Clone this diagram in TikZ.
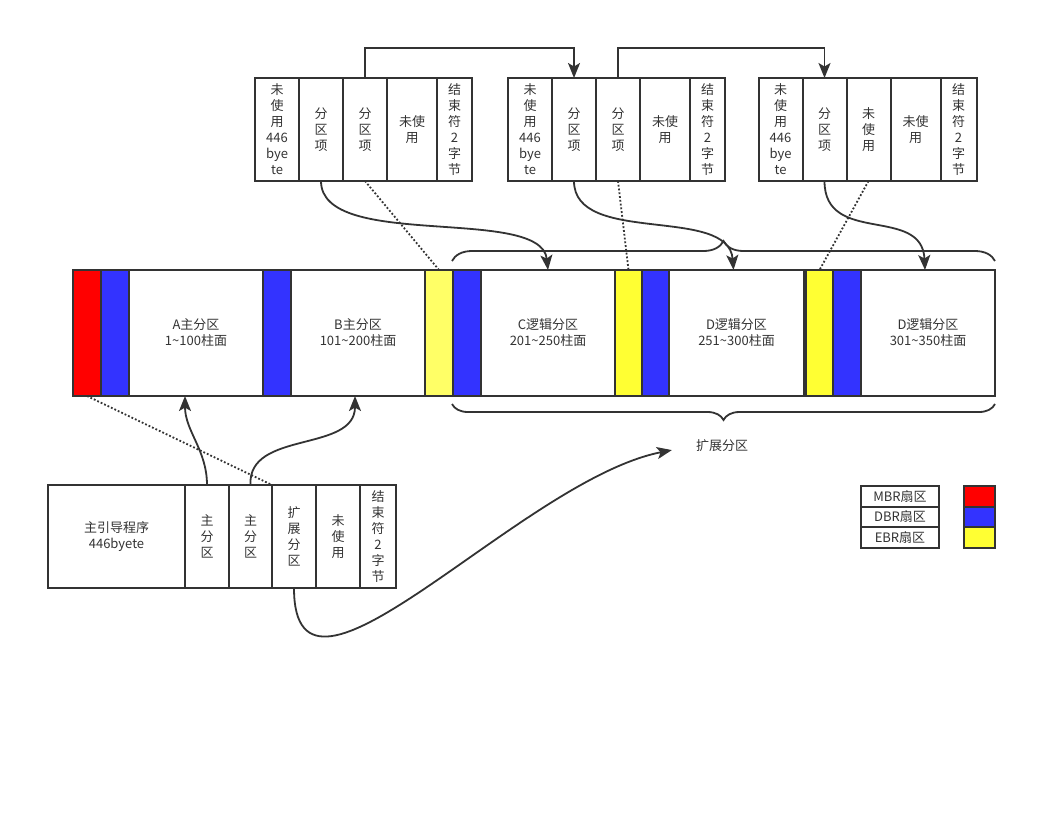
\documentclass[tikz,border=0pt]{standalone}
\usepackage{fontspec}
\setmainfont{Noto Sans CJK SC}
\usetikzlibrary{positioning,arrows.meta,decorations.pathreplacing}

\definecolor{linegray}{HTML}{333333}
\definecolor{mbrred}{HTML}{FF0000}
\definecolor{dbrblue}{HTML}{3333FF}
\definecolor{ebryellow}{HTML}{FFFF33}
\definecolor{ebrlight}{HTML}{FFFF66}

\tikzset{
    cell/.style={draw=linegray, line width=2pt, outer sep=0pt, inner sep=0pt,
        minimum height=103, text=linegray, align=center,
        font=\fontsize{13}{16}\selectfont},
    part/.style={cell, minimum height=126},
    tag/.style={cell, minimum height=20.5},
    link/.style={draw=linegray, line width=1.8pt, -{Stealth[length=15pt,width=12pt,inset=3.5pt]}},
    hint/.style={draw=linegray, line width=1.8pt, dotted},
    bracket/.style={draw=linegray, line width=1.8pt, decorate},
}

\begin{document}
\begin{tikzpicture}[x=1pt, y=-1pt]
    \useasboundingbox (0,0) rectangle (1057,812);
%
    % partition tables of the EBRs
    \node[cell, minimum width=44, anchor=west] (ta1) at (255,129.5) {未\\使\\用\\446\\bye\\te};
    \node[cell, minimum width=44, right=0pt of ta1] (ta2) {分\\区\\项};
    \node[cell, minimum width=44, right=0pt of ta2] (ta3) {分\\区\\项};
    \node[cell, minimum width=50, right=0pt of ta3] (ta4) {未使\\用};
    \node[cell, minimum width=35, right=0pt of ta4] (ta5) {结\\束\\符\\2\\字\\节};
%
    \node[cell, minimum width=44, anchor=west] (tb1) at (508,129.5) {未\\使\\用\\446\\bye\\te};
    \node[cell, minimum width=44, right=0pt of tb1] (tb2) {分\\区\\项};
    \node[cell, minimum width=44, right=0pt of tb2] (tb3) {分\\区\\项};
    \node[cell, minimum width=50, right=0pt of tb3] (tb4) {未使\\用};
    \node[cell, minimum width=35, right=0pt of tb4] (tb5) {结\\束\\符\\2\\字\\节};
%
    \node[cell, minimum width=44, anchor=west] (tc1) at (758.5,129.5) {未\\使\\用\\446\\bye\\te};
    \node[cell, minimum width=44, right=0pt of tc1] (tc2) {分\\区\\项};
    \node[cell, minimum width=44, right=0pt of tc2] (tc3) {未\\使\\用};
    \node[cell, minimum width=50, right=0pt of tc3] (tc4) {未使\\用};
    \node[cell, minimum width=36, right=0pt of tc4] (tc5) {结\\束\\符\\2\\字\\节};
%
    % the disk
    \node[part, fill=mbrred, minimum width=28, anchor=west] (mbr) at (73,333) {};
    \node[part, fill=dbrblue, minimum width=28, right=0pt of mbr] (dbra) {};
    \node[part, minimum width=134, right=0pt of dbra] (pa) {A主分区\\1\textasciitilde 100柱面};
    \node[part, fill=dbrblue, minimum width=28, right=0pt of pa] (dbrb) {};
    \node[part, minimum width=134, right=0pt of dbrb] (pb) {B主分区\\101\textasciitilde 200柱面};
    \node[part, fill=ebrlight, minimum width=28, right=0pt of pb] (ebrc) {};
    \node[part, fill=dbrblue, minimum width=28, right=0pt of ebrc] (dbrc) {};
    \node[part, minimum width=134, right=0pt of dbrc] (pc) {C逻辑分区\\201\textasciitilde 250柱面};
    \node[part, fill=ebryellow, minimum width=27, right=0pt of pc] (ebrd) {};
    \node[part, fill=dbrblue, minimum width=27, right=0pt of ebrd] (dbrd) {};
    \node[part, minimum width=135, right=0pt of dbrd] (pd) {D逻辑分区\\251\textasciitilde 300柱面};
    \node[part, fill=ebryellow, minimum width=27, right=2pt of pd] (ebre) {};
    \node[part, fill=dbrblue, minimum width=28, right=0pt of ebre] (dbre) {};
    \node[part, minimum width=134, right=0pt of dbre] (pe) {D逻辑分区\\301\textasciitilde 350柱面};
%
    \draw[bracket, decoration={brace, amplitude=20pt}] (452,261) -- (995,261);
    \draw[bracket, decoration={brace, amplitude=16pt}] (995,404) -- (452,404);
    \node[text=linegray, font=\fontsize{13}{16}\selectfont] (ext) at (722,446) {扩展分区};
%
    % the MBR
    \node[cell, minimum width=137, anchor=west] (mb1) at (48,536.5) {主引导程序\\446byete};
    \node[cell, minimum width=44, right=0pt of mb1] (mb2) {主\\分\\区};
    \node[cell, minimum width=43, right=0pt of mb2] (mb3) {主\\分\\区};
    \node[cell, minimum width=44, right=0pt of mb3] (mb4) {扩\\展\\分\\区};
    \node[cell, minimum width=44, right=0pt of mb4] (mb5) {未\\使\\用};
    \node[cell, minimum width=36, right=0pt of mb5] (mb6) {结\\束\\符\\2\\字\\节};
%
    % legend
    \node[tag, minimum width=78, anchor=north west] (lgm) at (861,486) {MBR扇区};
    \node[tag, minimum width=78, below=0pt of lgm] (lgd) {DBR扇区};
    \node[tag, minimum width=78, below=0pt of lgd] (lge) {EBR扇区};
    \node[tag, fill=mbrred, minimum width=31, anchor=north west] (lcm) at (964,486) {};
    \node[tag, fill=dbrblue, minimum width=31, below=0pt of lcm] (lcd) {};
    \node[tag, fill=ebryellow, minimum width=31, below=0pt of lcd] (lce) {};
%
    % chain of the EBRs
    \draw[link] (ta3.north) -- ++(0,-30) -| (tb2.north);
    \draw[link] (tb3.north) -- ++(0,-30) -| (tc2.north);
    \draw[link] (ta2.south) .. controls +(0,70) and +(-7,-65) .. (pc.north);
    \draw[link] (tb2.south) .. controls +(0,65) and +(-5,-65) .. ([xshift=-3pt]pd.north);
    \draw[link] (tc2.south) .. controls +(0,65) and +(-3,-65) .. ([xshift=-3pt]pe.north);
    \draw[hint] (ta3.south) -- (ebrc.north);
    \draw[hint] (tb3.south) -- (ebrd.north);
    \draw[hint] (tc3.south) -- (ebre.north);
%
    % MBR entries
    \draw[link] (mb2.north) .. controls +(0,-35) and +(0,35) .. ([xshift=-11pt]pa.south);
    \draw[link] (mb3.north) .. controls +(-3,-55) and +(0,57) .. ([xshift=-3pt]pb.south);
    \draw[hint] (mbr.south) -- (mb4.north west);
    \draw[link, shorten >=21pt] (mb4.south) .. controls +(0,155) and (520,480) .. (ext.west);
\end{tikzpicture}
\end{document}
